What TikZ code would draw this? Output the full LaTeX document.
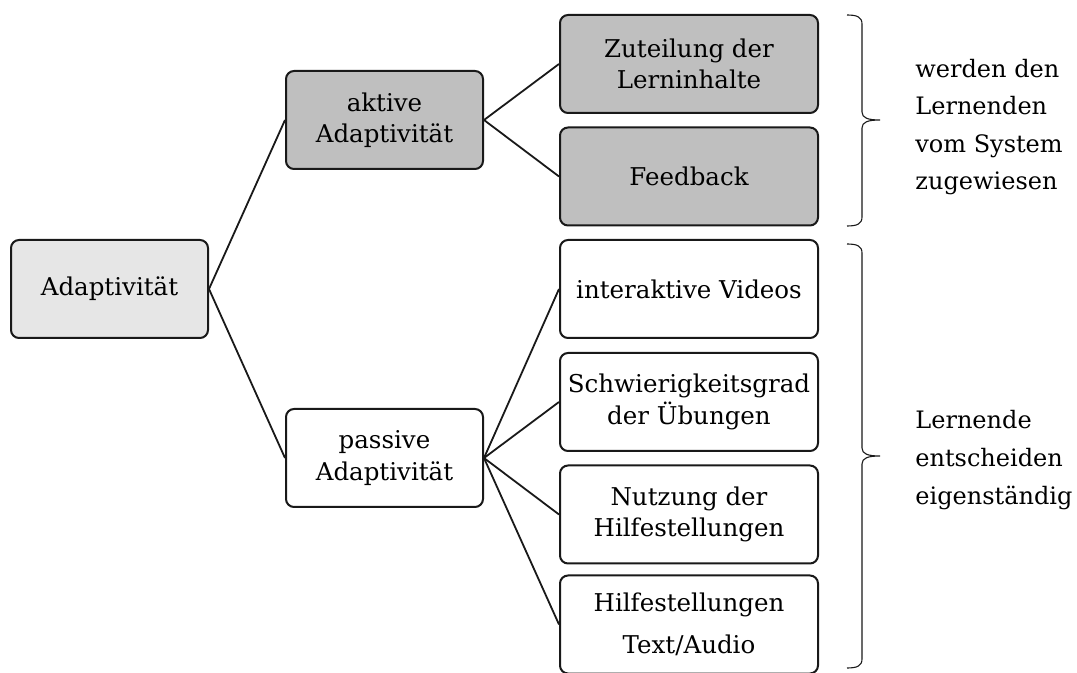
\documentclass[tikz,border=0pt]{standalone}
\usepackage{fontspec}
\setmainfont{DejaVu Serif}
\usepackage{xcolor}
\definecolor{grauhell}{RGB}{230, 230, 230}
\definecolor{graudunkel}{RGB}{191, 191, 191}
\usepackage{tikz}

\begin{document}
\begin{tikzpicture}[x=0.5pt, y=-0.5pt,
  knoten/.style={rectangle, rounded corners=4pt, draw=black!90, line width=1pt, minimum width=98.5pt, minimum height=49pt, inner sep=2pt, align=center, font=\fontsize{12.25}{15.75}\selectfont},
  blatt/.style={knoten, minimum width=129pt},
  verb/.style={line width=0.9pt, black!90},
  klammer/.style={line width=0.55pt, black!90},
  notiz/.style={anchor=west, inner sep=0pt, align=left, font=\fontsize{12}{18.8}\selectfont}
]
  \useasboundingbox (0,0) rectangle (1077,673);

  \node[knoten, fill=grauhell] (ada) at (109.5,289) {Adaptivität};
  \node[knoten, fill=graudunkel] (akt) at (384.5,120) {aktive\\Adaptivität};
  \node[knoten, fill=white] (pas) at (384.5,458) {passive\\Adaptivität};

  \node[blatt, fill=graudunkel] (zut) at (689,64) {Zuteilung der\\Lerninhalte};
  \node[blatt, fill=graudunkel] (feed) at (689,176.5) {Feedback};
  \node[blatt] (vid) at (689,289) {interaktive Videos};
  \node[blatt] (schw) at (689,402) {Schwierigkeitsgrad\\der Übungen};
  \node[blatt] (nutz) at (689,514.5) {Nutzung der\\Hilfestellungen};
  \node[blatt] (hilf) at (689,624.5) {Hilfestellungen\\[5pt]Text/Audio};

  \draw[verb] (ada.east) -- (akt.west);
  \draw[verb] (ada.east) -- (pas.west);
  \draw[verb] (akt.east) -- (zut.west);
  \draw[verb] (akt.east) -- (feed.west);
  \foreach \ziel in {vid, schw, nutz, hilf}
    \draw[verb] (pas.east) -- (\ziel.west);

  % Klammern
  \draw[klammer] (847,15) .. controls (857,15) and (862,17) .. (862,24) -- (862,112)
    .. controls (862,118) and (868,120) .. (880,120) .. controls (868,120) and (862,122) .. (862,128)
    -- (862,217) .. controls (862,224) and (857,226) .. (847,226);
  \draw[klammer] (847,244) .. controls (857,244) and (862,246) .. (862,253) -- (862,448)
    .. controls (862,454) and (868,456) .. (880,456) .. controls (868,456) and (862,458) .. (862,464)
    -- (862,659) .. controls (862,666) and (857,668) .. (847,668);

  \node[notiz] (txt1) at (915,127) {werden den\\Lernenden\\vom System\\zugewiesen};
  \node[notiz] (txt2) at (915,460) {Lernende\\entscheiden\\eigenständig};
\end{tikzpicture}
\end{document}
